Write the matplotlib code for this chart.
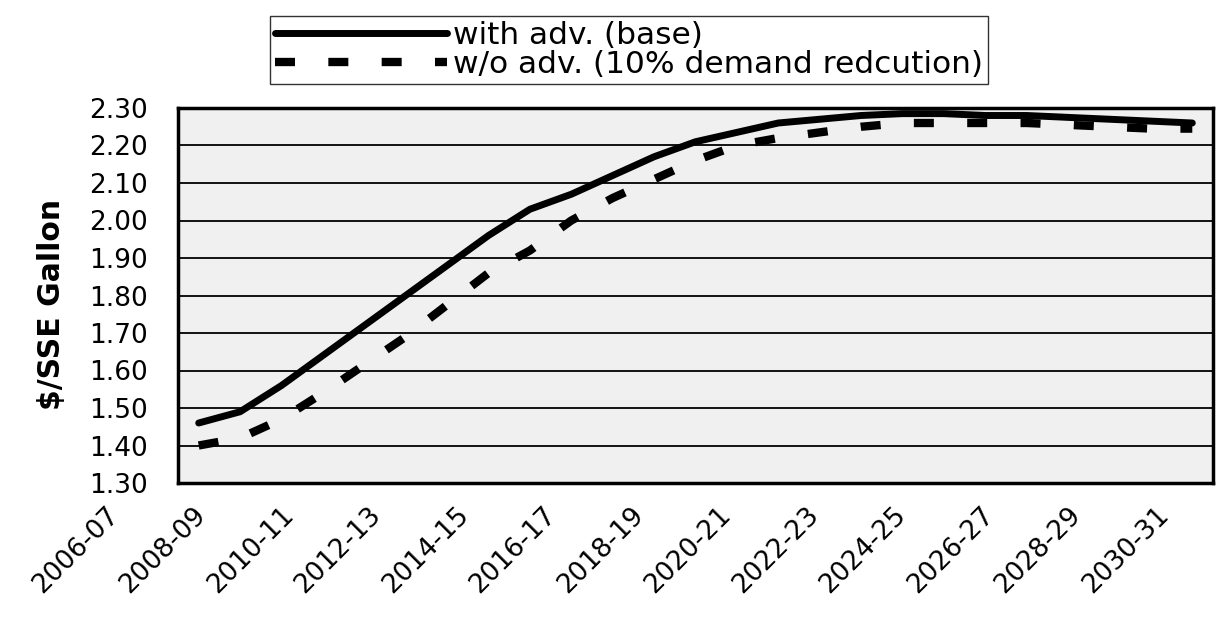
import numpy as np
import matplotlib
matplotlib.use("Agg")
import matplotlib.pyplot as plt
import matplotlib.transforms as mtransforms

# fiscal years, one per point
years = ["2006-07", "2007-08", "2008-09", "2009-10", "2010-11", "2011-12",
         "2012-13", "2013-14", "2014-15", "2015-16", "2016-17", "2017-18",
         "2018-19", "2019-20", "2020-21", "2021-22", "2022-23", "2023-24",
         "2024-25", "2025-26", "2026-27", "2027-28", "2028-29", "2029-30",
         "2030-31"]

# $/SSE gallon
with_adv = [1.46, 1.49, 1.56, 1.64, 1.72, 1.80, 1.88, 1.96, 2.03, 2.07,
            2.12, 2.17, 2.21, 2.235, 2.26, 2.27, 2.28, 2.285, 2.285, 2.28,
            2.28, 2.275, 2.27, 2.265, 2.26]
without_adv = [1.40, 1.42, 1.47, 1.54, 1.615, 1.69, 1.775, 1.86, 1.92, 2.00,
               2.06, 2.11, 2.16, 2.20, 2.22, 2.235, 2.25, 2.26, 2.26, 2.26,
               2.26, 2.255, 2.25, 2.245, 2.245]

label_with = "with adv. (base)"
label_without = "w/o adv. (10% demand redcution)"
y_ticks = [1.30, 1.40, 1.50, 1.60, 1.70, 1.80, 1.90, 2.00, 2.10, 2.20, 2.30]

plt.rcParams['font.family'] = ['DejaVu Sans']

fig = plt.figure(figsize=(12.26, 6.25), dpi=100)
ax = fig.add_axes([178/1226, 1 - 483/625, 1035/1226, 375/625])
ax.set_facecolor('#f0f0f0')

x = np.arange(len(years))
ax.plot(x, without_adv, color='black', lw=6, linestyle=(0, (2.4, 4.0)),
        solid_capstyle='butt', dash_capstyle='butt', label=label_without, zorder=3)
ax.plot(x, with_adv, color='black', lw=5, solid_capstyle='round',
        label=label_with, zorder=4)

ax.set_xlim(-0.5, len(years) - 0.5)
ax.set_ylim(1.30, 2.30)
ax.set_yticks(y_ticks)
ax.set_yticklabels(["%.2f" % v for v in y_ticks], fontsize=19)
ax.yaxis.grid(True, color='black', lw=1.3)
ax.set_axisbelow(True)

ax.set_xticks(x[::2])
ax.set_xticklabels(years[::2], rotation=45, ha='right', va='top',
                   rotation_mode='anchor', fontsize=19)

ax.tick_params(axis='y', length=0, pad=22)
ax.tick_params(axis='x', length=0, pad=14)

# the scanned labels sit left of their category and spread a bit wider
for i, lab in enumerate(ax.get_xticklabels()):
    shift = mtransforms.ScaledTranslation(-0.93 + 0.047 * i, 0, fig.dpi_scale_trans)
    lab.set_transform(lab.get_transform() + shift)

for s in ax.spines.values():
    s.set_linewidth(2.5)
    s.set_color('black')

ax.set_ylabel(r"\$/SSE Gallon", fontsize=21.5, fontweight='bold')
ax.yaxis.set_label_coords(-0.108, 0.475)

handles, labels = ax.get_legend_handles_labels()
leg = fig.legend(handles[::-1], labels[::-1], loc='center',
                 bbox_to_anchor=(0.513, 0.92), fontsize=22.5, frameon=True,
                 fancybox=False, edgecolor='black', handlelength=5.5,
                 handletextpad=0.2, labelspacing=0.0, borderpad=0.15)
leg.get_frame().set_linewidth(1.0)

fig.savefig("out.png", dpi=100)
